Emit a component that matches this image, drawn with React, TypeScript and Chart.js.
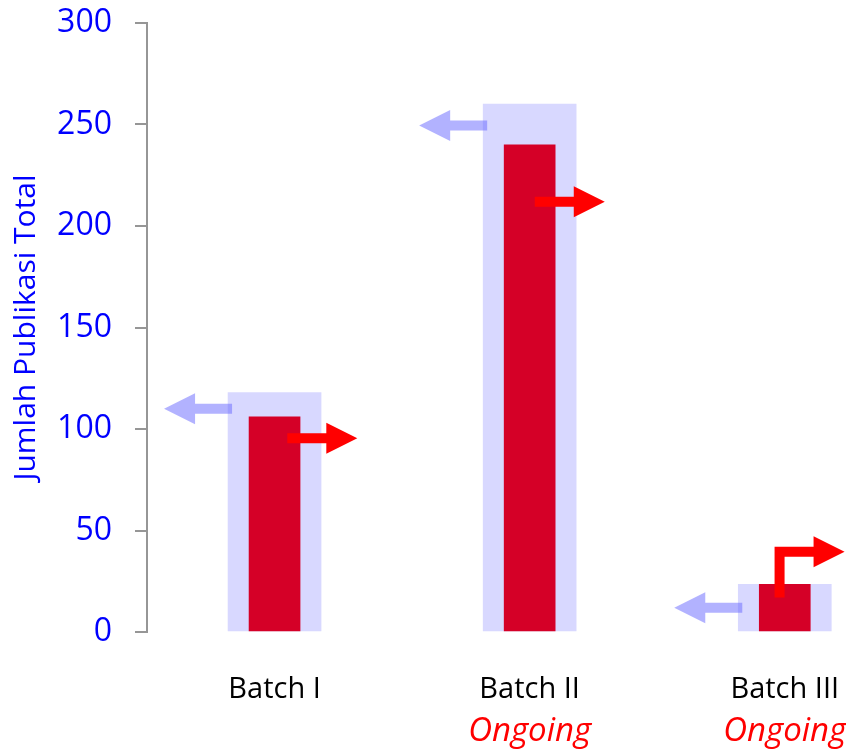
import React, { useEffect, useRef } from 'react';
import { Chart, registerables } from 'chart.js';

Chart.register(...registerables);

// ---- data ----
const categories = ['Batch I', 'Batch II', 'Batch III'];
const statusLabels = ['', 'Ongoing', 'Ongoing'];
const targetValues = [118, 260, 23.5];
const publishedValues = [106, 240, 23.5];
const yTicks = [0, 50, 100, 150, 200, 250, 300];
// arrow annotations (in data units)
const leftArrowY = [110, 249.5, 12];
const rightArrowX = [0.05, 1.02, 1.96];
const rightArrowY = [95.5, 212, 39.5];
const rightArrowBendFromY: (number | null)[] = [null, null, 17];

const FONT = "'Open Sans'";
const AXIS_GREY = '#969696';

const arrowsPlugin = {
  id: 'arrows',
  afterDatasetsDraw(chart: any) {
    const ctx = chart.ctx as CanvasRenderingContext2D;
    const xs = chart.scales.x;
    const ys = chart.scales.y;
    const wideMeta = chart.getDatasetMeta(1);
    const S = 10;
    const HEAD_LEN = 31;
    const HEAD_HALF = 15.5;
    const LEN = 70;
    ctx.save();
    // left-pointing arrows (translucent blue)
    ctx.fillStyle = 'rgba(102,102,255,0.5)';
    leftArrowY.forEach((v, i) => {
      const bar = wideMeta.data[i];
      const left = bar.x - bar.width / 2;
      const end = left + 4;
      const tip = end - 68;
      const y = ys.getPixelForValue(v);
      ctx.beginPath();
      ctx.moveTo(tip, y);
      ctx.lineTo(tip + HEAD_LEN, y - HEAD_HALF);
      ctx.lineTo(tip + HEAD_LEN, y - S / 2);
      ctx.lineTo(end, y - S / 2);
      ctx.lineTo(end, y + S / 2);
      ctx.lineTo(tip + HEAD_LEN, y + S / 2);
      ctx.lineTo(tip + HEAD_LEN, y + HEAD_HALF);
      ctx.closePath();
      ctx.fill();
    });
    // right-pointing arrows (red)
    ctx.fillStyle = '#ff0000';
    rightArrowY.forEach((v, i) => {
      const sx = xs.getPixelForValue(rightArrowX[i]);
      const y = ys.getPixelForValue(v);
      const tip = sx + LEN;
      const back = tip - HEAD_LEN;
      const bend = rightArrowBendFromY[i];
      ctx.beginPath();
      if (bend === null) {
        ctx.moveTo(sx, y - S / 2);
        ctx.lineTo(back, y - S / 2);
        ctx.lineTo(back, y - HEAD_HALF);
        ctx.lineTo(tip, y);
        ctx.lineTo(back, y + HEAD_HALF);
        ctx.lineTo(back, y + S / 2);
        ctx.lineTo(sx, y + S / 2);
      } else {
        const yb = ys.getPixelForValue(bend);
        ctx.moveTo(sx, yb);
        ctx.lineTo(sx, y - S / 2);
        ctx.lineTo(back, y - S / 2);
        ctx.lineTo(back, y - HEAD_HALF);
        ctx.lineTo(tip, y);
        ctx.lineTo(back, y + HEAD_HALF);
        ctx.lineTo(back, y + S / 2);
        ctx.lineTo(sx + S, y + S / 2);
        ctx.lineTo(sx + S, yb);
      }
      ctx.closePath();
      ctx.fill();
    });
    ctx.restore();
  },
};

export default function App() {
  const ref = useRef<HTMLCanvasElement>(null);
  useEffect(() => {
    document.body.style.margin = '0';
    Chart.defaults.font.family = FONT;
    const chart = new Chart(ref.current as HTMLCanvasElement, {
      type: 'bar',
      data: {
        datasets: [
          {
            data: publishedValues.map((v, i) => ({ x: i, y: v })),
            backgroundColor: '#d50027',
            barThickness: 51,
            maxBarThickness: 51,
            grouped: false,
            order: 0,
          } as any,
          {
            data: targetValues.map((v, i) => ({ x: i, y: v })),
            backgroundColor: '#d8d8ff',
            barThickness: 93,
            maxBarThickness: 93,
            grouped: false,
            order: 1,
          } as any,
        ],
      },
      options: {
        animation: false,
        responsive: false,
        layout: { padding: { top: 23, right: 0, left: 0, bottom: 0 } },
        plugins: { legend: { display: false }, tooltip: { enabled: false } },
        scales: {
          x: {
            type: 'linear',
            position: 'bottom',
            weight: 0,
            offset: false,
            min: -0.5,
            max: 2.24,
            grid: { display: false },
            border: { display: false },
            afterBuildTicks: (s: any) => {
              s.ticks = categories.map((_, i) => ({ value: i }));
            },
            afterFit: (s: any) => {
              s.height = 70;
              s.paddingLeft = 0;
              s.paddingRight = 0;
            },
            ticks: {
              autoSkip: false,
              maxRotation: 0,
              minRotation: 0,
              padding: 32,
              color: '#000000',
              font: { family: FONT, size: 29 },
              callback: (v: any) => categories[v] ?? '',
            },
          },
          x2: {
            type: 'linear',
            position: 'bottom',
            weight: 1,
            offset: false,
            min: -0.5,
            max: 2.24,
            grid: { display: false },
            border: { display: false },
            afterBuildTicks: (s: any) => {
              s.ticks = statusLabels.map((_, i) => ({ value: i }));
            },
            afterFit: (s: any) => {
              s.height = 47;
              s.paddingLeft = 0;
              s.paddingRight = 0;
            },
            ticks: {
              autoSkip: false,
              maxRotation: 0,
              minRotation: 0,
              padding: 2,
              color: '#ff0000',
              font: { family: FONT, size: 33, style: 'italic' },
              callback: (v: any) => statusLabels[v] ?? '',
            },
          },
          y: {
            type: 'linear',
            min: 0,
            max: 300,
            afterBuildTicks: (s: any) => {
              s.ticks = yTicks.map((v) => ({ value: v }));
            },
            afterFit: (s: any) => {
              s.width = 147;
              s.paddingTop = 0;
              s.paddingBottom = 0;
            },
            grid: {
              drawOnChartArea: false,
              drawTicks: true,
              tickLength: 12,
              color: AXIS_GREY,
              lineWidth: 2,
            },
            border: { display: true, color: AXIS_GREY, width: 2 },
            ticks: {
              padding: 23,
              color: '#0000ff',
              font: { family: FONT, size: 32 },
            },
            title: {
              display: true,
              text: 'Jumlah Publikasi Total',
              color: '#0000ff',
              font: { family: FONT, size: 30 },
              padding: { top: 8, bottom: 0 },
            },
          },
        },
      } as any,
      plugins: [arrowsPlugin],
    });
    return () => chart.destroy();
  }, []);
  return (
    <div style={{ width: 846, height: 749 }}>
      <canvas ref={ref} width={846} height={749} style={{ display: 'block' }} />
    </div>
  );
}
